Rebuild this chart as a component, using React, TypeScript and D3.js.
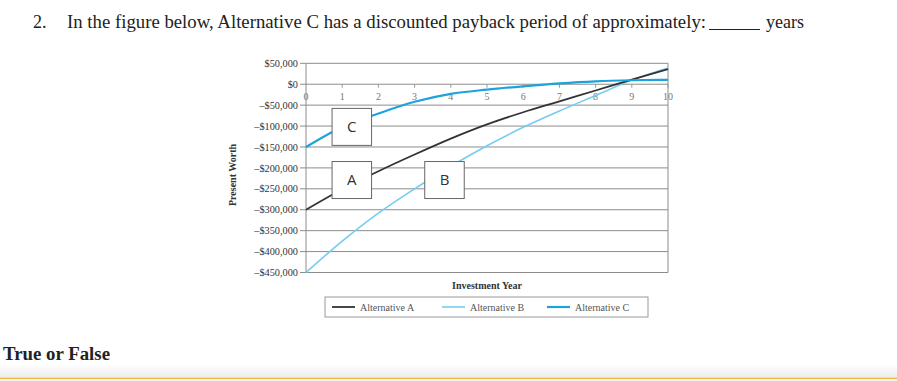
import React from "react";
import * as d3 from "d3";

const years = [0, 1, 2, 3, 4, 5, 6, 7, 8, 9, 10];
const altA = [-300000, -251000, -208000, -168000, -130000, -96000, -67000, -41000, -15000, 11000, 36000];
const altB = [-450000, -375000, -308000, -250000, -196000, -147000, -103000, -64000, -27000, 10000, 39000];
const altC = [-150000, -102000, -70000, -42000, -23000, -13000, -5000, 2000, 7000, 9500, 10500];
const yTicks = [50000, 0, -50000, -100000, -150000, -200000, -250000, -300000, -350000, -400000, -450000];
const xTickLabels = ["0", "1", "2", "3", "4", "5", "6", "7", "8", "9", "10"];
const seriesNames = ["Alternative A", "Alternative B", "Alternative C"];
const boxLabels = [
  { label: "C", year: 0.72, value: -102000 },
  { label: "A", year: 0.72, value: -229000 },
  { label: "B", year: 3.28, value: -229000 },
];

const W = 897;
const H = 381;
const serif = "'Liberation Serif', 'Times New Roman', serif";

const fmt = (v: number) => {
  const s = "$" + d3.format(",")(Math.abs(v));
  return v < 0 ? "\u2013" + s : s;
};

export default function App() {
  const x = d3.scaleLinear().domain([0, 10]).range([306, 668]);
  const y = d3.scaleLinear().domain([-450000, 50000]).range([272.5, 63.3]);
  const line = d3
    .line<number>()
    .x((_, i) => x(years[i]))
    .y((d) => y(d))
    .curve(d3.curveMonotoneX);

  const colA = "#333333";
  const colB = "#74cdf0";
  const colC = "#1ea2dc";

  const legendItems = [
    { name: seriesNames[0], color: colA, w: 1.8, lx: 332, tx: 360 },
    { name: seriesNames[1], color: colB, w: 1.6, lx: 442, tx: 470 },
    { name: seriesNames[2], color: colC, w: 2.2, lx: 547, tx: 575 },
  ];

  return (
    <svg
      width={W}
      height={H}
      style={{ position: "absolute", left: 0, top: 0, background: "#fff" }}
    >
      <defs>
        <linearGradient id="bottomGrad" x1="0" y1="0" x2="0" y2="1">
          <stop offset="0" stopColor="#ffffff" />
          <stop offset="1" stopColor="#ececec" />
        </linearGradient>
      </defs>

      {/* question title */}
      <text x={33} y={28} fontFamily={serif} fontSize={18} fill="#222">2.</text>
      <text
        x={67}
        y={28}
        fontFamily={serif}
        fontSize={18}
        fill="#222"
        textLength={639}
        lengthAdjust="spacingAndGlyphs"
      >
        In the figure below, Alternative C has a discounted payback period of approximately:
      </text>
      <line x1={709} x2={760} y1={29.5} y2={29.5} stroke="#222" strokeWidth={1} />
      <text x={766} y={28} fontFamily={serif} fontSize={18} fill="#222">years</text>

      {/* gridlines */}
      {yTicks.map((t) => (
        <g key={t}>
          <line x1={300} x2={668} y1={y(t)} y2={y(t)} stroke="#8c8c8c" strokeWidth={1} />
          <text
            x={298}
            y={y(t)}
            dy="0.35em"
            textAnchor="end"
            fontFamily={serif}
            fontSize={10.3}
            fill="#333"
          >
            {fmt(t)}
          </text>
        </g>
      ))}
      <line x1={306} x2={306} y1={y(50000)} y2={y(-450000)} stroke="#8c8c8c" strokeWidth={1} />
      <line x1={668} x2={668} y1={y(50000)} y2={y(-450000)} stroke="#8c8c8c" strokeWidth={1} />

      {/* x ticks on zero line */}
      {years.map((yr, i) => (
        <g key={yr}>
          {i > 0 && (
            <line x1={x(yr)} x2={x(yr)} y1={y(0)} y2={y(0) + 3.5} stroke="#999" strokeWidth={1} />
          )}
          <text
            x={x(yr)}
            y={y(0) + 16}
            textAnchor="middle"
            fontFamily={serif}
            fontSize={10}
            fill="#777"
          >
            {xTickLabels[i]}
          </text>
        </g>
      ))}

      {/* series */}
      <path d={line(altB) || ""} fill="none" stroke={colB} strokeWidth={1.6} />
      <path d={line(altA) || ""} fill="none" stroke={colA} strokeWidth={1.8} />
      <path d={line(altC) || ""} fill="none" stroke={colC} strokeWidth={2.2} />

      {/* label boxes */}
      {boxLabels.map((b) => (
        <g key={b.label}>
          <rect
            x={x(b.year)}
            y={y(b.value) - 18.5}
            width={39.5}
            height={37}
            fill="#fff"
            stroke="#666"
            strokeWidth={1}
          />
          <text
            x={x(b.year) + 19.75}
            y={y(b.value)}
            dy="0.36em"
            textAnchor="middle"
            fontFamily="'Open Sans', Arial, sans-serif"
            fontSize={15}
            fill="#333"
          >
            {b.label}
          </text>
        </g>
      ))}

      {/* axis titles */}
      <text
        transform={`translate(236,175) rotate(-90)`}
        textAnchor="middle"
        fontFamily={serif}
        fontSize={10}
        fontWeight="bold"
        fill="#333"
      >
        Present Worth
      </text>
      <text
        x={487}
        y={289}
        textAnchor="middle"
        fontFamily={serif}
        fontSize={10}
        fontWeight="bold"
        fill="#333"
      >
        Investment Year
      </text>

      {/* legend */}
      <rect x={325} y={297} width={323} height={20} fill="#fff" stroke="#999" strokeWidth={1} />
      {legendItems.map((it) => (
        <g key={it.name}>
          <line x1={it.lx} x2={it.lx + 23} y1={307} y2={307} stroke={it.color} strokeWidth={it.w} />
          <text x={it.tx} y={307} dy="0.35em" fontFamily={serif} fontSize={10} fill="#555">
            {it.name}
          </text>
        </g>
      ))}

      {/* footer */}
      <text
        x={3}
        y={360}
        fontFamily={serif}
        fontSize={18}
        fontWeight="bold"
        fill="#222"
        textLength={107}
        lengthAdjust="spacingAndGlyphs"
      >
        True or False
      </text>
      <rect x={0} y={364} width={W} height={14} fill="url(#bottomGrad)" />
      <line x1={0} x2={W} y1={378.5} y2={378.5} stroke="#f2b640" strokeWidth={1.5} />
      <rect x={0} y={379.3} width={W} height={2} fill="#f4f4f4" />
    </svg>
  );
}
